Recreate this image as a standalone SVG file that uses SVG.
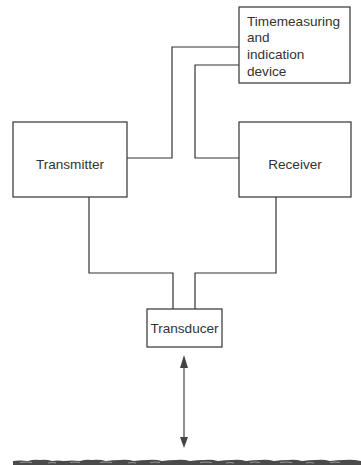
<svg xmlns="http://www.w3.org/2000/svg" width="361" height="465" viewBox="0 0 361 465">
<defs>
<style>
.box{fill:#fff;stroke:#333;stroke-width:1.2}
.lbl{font-family:"Liberation Sans",Arial,sans-serif;font-size:13.6px;fill:#333}
.wire{fill:none;stroke:#333;stroke-width:1.2}
.head{fill:#444}
</style>
</defs>
<rect width="361" height="465" fill="#fff"/>
<g id="connectors">
<path class="wire" d="M239,47 H172 V158 H127"/>
<path class="wire" d="M239,65 H195 V158 H239"/>
<path class="wire" d="M89,197 V273 H173 V309"/>
<path class="wire" d="M276,197 V273 H195 V309"/>
<line x1="184" y1="365" x2="184" y2="440" stroke="#444" stroke-width="1.2"/>
<path class="head" d="M184,355 L188,368 L180,368 Z"/>
<path class="head" d="M184,448 L188,437 L180,437 Z"/>
</g>
<g id="timemeasuring">
<rect class="box" x="239" y="7" width="111" height="76"/>
<text class="lbl" x="247" y="26">Timemeasuring</text>
<text class="lbl" x="247" y="42">and</text>
<text class="lbl" x="247" y="59">indication</text>
<text class="lbl" x="247" y="76">device</text>
</g>
<g id="transmitter">
<rect class="box" x="13" y="122" width="114" height="75"/>
<text class="lbl" x="70" y="169" text-anchor="middle">Transmitter</text>
</g>
<g id="receiver">
<rect class="box" x="239" y="122" width="112" height="75"/>
<text class="lbl" x="295" y="169" text-anchor="middle">Receiver</text>
</g>
<g id="transducer">
<rect class="box" x="147" y="309" width="75" height="38"/>
<text class="lbl" x="184.5" y="333" text-anchor="middle">Transducer</text>
</g>
<g id="seabed">
<path d="M13,465 L13,461 Q20,460 28,461 Q34,459 40,460 Q46,459 52,461 Q58,460 64,461 Q72,460 80,461 Q86,459 92,460 Q99,459 106,461 Q113,460 120,460 Q127,459 134,461 Q141,460 148,460 Q155,459 162,461 Q169,460 176,460 Q183,459 190,461 Q197,460 204,460 Q211,459 218,461 Q225,460 232,460 Q239,459 246,461 Q253,460 260,460 Q267,459 274,461 Q281,460 288,460 Q295,459 302,461 Q309,460 316,460 Q323,459 330,461 Q337,460 344,460 Q352,459 361,461 L361,465 Z" fill="#4a4a4a"/>
<path d="M20,462.5 q6,-1 12,0 M48,463 q4,-1 8,0 M70,462.5 q5,-1 10,0 M100,462.5 q6,-1 12,0 M128,463 q4,-1 8,0 M150,462.5 q5,-1 10,0 M200,462.5 q6,-1 12,0 M226,463 q4,-1 8,0 M250,462.5 q5,-1 10,0 M280,462.5 q6,-1 12,0 M306,463 q4,-1 8,0 M330,462.5 q5,-1 10,0" fill="none" stroke="#aaa" stroke-width="0.8"/>
</g>
</svg>
